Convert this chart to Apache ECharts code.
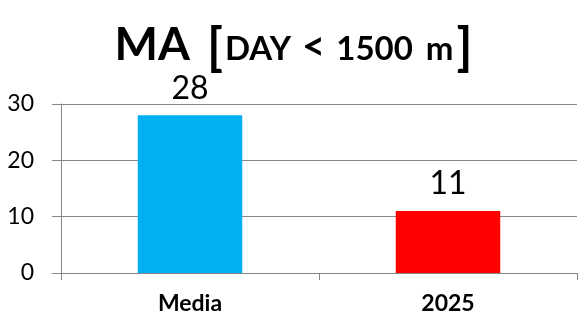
<!DOCTYPE html>
<html>
<head>
<meta charset="utf-8">
<script src="https://cdn.jsdelivr.net/npm/echarts@6/dist/echarts.min.js"></script>
<style>
  html, body { margin: 0; padding: 0; background: #fff; }
  #chart { width: 587px; height: 328px; }
</style>
</head>
<body>
<div id="chart"></div>
<script>
// Categories and values
const categories = ['Media', '2025'];
const values = [28, 11];
const barColors = ['#00B0F0', '#FF0000'];
const yTicks = [0, 10, 20, 30];

const FONT = 'Lato, "Open Sans", sans-serif';
const AXIS_GRAY = '#868686';

const chart = echarts.init(document.getElementById('chart'), null, { renderer: 'canvas' });

// Title fragments share one line; bottom padding lifts each run onto a common baseline
const base = { fontFamily: FONT, fontWeight: 'bold', color: '#000', verticalAlign: 'bottom', lineHeight: 40 };

chart.setOption({
  backgroundColor: '#ffffff',
  animation: false,
  title: {
    left: 'center',
    top: 34,
    padding: 0,
    text: '{big|MA}{brl|[}{sm|DAY}{lt|<}{num|1500}{unit|m}{brr|]}',
    textStyle: {
      rich: {
        big: Object.assign({}, base, { fontSize: 46, padding: [0, 0, 6, 0] }),
        brl: Object.assign({}, base, { fontSize: 51, padding: [0, 0, 0, 17] }),
        brr: Object.assign({}, base, { fontSize: 51, padding: [0, 0, 0, 3] }),
        sm: Object.assign({}, base, { fontSize: 33, padding: [0, 0, 8, 2] }),
        lt: Object.assign({}, base, { fontSize: 40, padding: [0, 0, 7, 11] }),
        num: Object.assign({}, base, { fontSize: 33, padding: [0, 0, 8, 11] }),
        unit: Object.assign({}, base, { fontSize: 33, padding: [0, 0, 8, 13] })
      }
    }
  },
  grid: { left: 61, right: 10, top: 104, bottom: 55, containLabel: false },
  xAxis: {
    type: 'category',
    data: categories,
    boundaryGap: true,
    axisLine: { show: true, lineStyle: { color: AXIS_GRAY, width: 1 } },
    axisTick: { show: true, length: 7, alignWithLabel: false, lineStyle: { color: AXIS_GRAY } },
    axisLabel: { fontFamily: FONT, fontWeight: 'bold', fontSize: 23, color: '#000', margin: 19 }
  },
  yAxis: {
    type: 'value',
    min: yTicks[0],
    max: yTicks[yTicks.length - 1],
    interval: 10,
    axisLine: { show: true, lineStyle: { color: AXIS_GRAY, width: 1 } },
    axisTick: { show: true, length: 9, lineStyle: { color: AXIS_GRAY } },
    splitLine: { show: true, lineStyle: { color: AXIS_GRAY, width: 1 } },
    axisLabel: { fontFamily: FONT, fontSize: 23, color: '#000', margin: 27 }
  },
  series: [{
    type: 'bar',
    barWidth: '40.5%',
    data: values.map((v, i) => ({ value: v, itemStyle: { color: barColors[i] } })),
    label: {
      show: true,
      position: 'top',
      distance: 11,
      fontFamily: FONT,
      fontSize: 32,
      color: '#000'
    }
  }]
});
</script>
</body>
</html>
